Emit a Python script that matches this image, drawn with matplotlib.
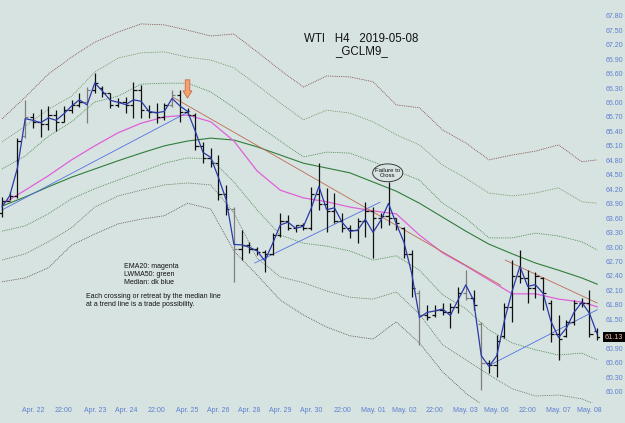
import matplotlib
matplotlib.use("Agg")
import matplotlib.pyplot as plt
from matplotlib.patches import Ellipse

# ---------------- data ----------------
opens = [63.70, 63.95, 64.05, 65.30, 65.70, 65.60, 65.55, 65.75, 65.60, 65.85,
         65.95, 66.00, 66.25, 66.30, 66.20, 65.95, 66.00, 65.95, 66.25, 65.85,
         65.80, 65.70, 65.95, 66.15, 65.80, 65.75, 65.10, 64.85, 64.75, 64.10,
         63.80, 62.95, 63.05, 62.95, 62.90, 62.85, 63.25, 63.55, 63.40, 63.45,
         63.40, 64.10, 63.90, 63.75, 63.55, 63.40, 63.35, 63.55, 63.75, 63.60,
         63.65, 63.60, 63.40, 62.85, 62.05, 61.60, 61.60, 61.70, 61.65, 61.75,
         62.05, 61.95, 61.40, 60.60, 60.55, 61.15, 61.75, 62.40, 62.35, 62.15,
         62.35, 61.85, 61.20, 61.15, 61.45, 61.85, 61.85, 61.25]
highs = [64.04, 64.15, 65.27, 66.06, 65.79, 65.87, 65.93, 65.85, 65.93, 66.06,
         66.20, 66.32, 66.61, 66.35, 66.20, 66.10, 66.12, 66.43, 66.37, 65.95,
         65.99, 65.99, 66.26, 66.26, 65.89, 65.79, 65.18, 65.06, 64.91, 64.29,
         63.83, 63.36, 63.11, 63.00, 62.94, 63.30, 63.71, 63.67, 63.46, 63.50,
         64.25, 64.75, 64.23, 64.13, 63.71, 63.46, 63.61, 63.94, 63.83, 63.71,
         64.35, 63.61, 63.42, 62.94, 62.11, 61.80, 61.80, 61.84, 61.84, 62.17,
         62.53, 62.11, 61.45, 60.66, 61.18, 61.84, 62.73, 62.94, 62.53, 62.49,
         62.38, 61.90, 61.59, 61.49, 61.90, 61.95, 62.11, 61.32]
lows = [63.63, 63.98, 64.02, 65.27, 65.47, 65.29, 65.43, 65.41, 65.60, 65.79,
        65.91, 65.58, 66.20, 66.12, 65.89, 65.91, 65.79, 65.68, 65.68, 65.68,
        65.58, 65.64, 65.91, 65.60, 65.74, 65.02, 64.75, 64.66, 63.98, 63.67,
        62.28, 62.73, 62.88, 62.84, 62.49, 62.84, 63.21, 63.36, 63.32, 63.36,
        63.36, 63.77, 63.32, 63.50, 63.32, 63.19, 63.09, 63.21, 62.78, 63.40,
        63.46, 63.36, 62.78, 61.97, 60.97, 61.49, 61.55, 61.59, 61.32, 61.64,
        61.90, 61.69, 60.04, 60.39, 60.31, 61.12, 61.45, 62.26, 61.84, 61.95,
        61.70, 61.03, 60.66, 61.14, 61.39, 61.76, 61.14, 61.07]
closes = [63.95, 64.05, 65.20, 65.70, 65.60, 65.55, 65.75, 65.60, 65.85, 65.95,
          66.00, 66.25, 66.40, 66.20, 65.95, 66.00, 65.95, 66.25, 65.85, 65.80,
          65.70, 65.95, 66.15, 65.80, 65.75, 65.10, 64.85, 64.75, 64.10, 63.80,
          62.95, 63.05, 62.95, 62.90, 62.85, 63.25, 63.55, 63.40, 63.45, 63.40,
          64.10, 63.90, 63.75, 63.55, 63.40, 63.35, 63.55, 63.75, 63.60, 63.65,
          63.60, 63.50, 62.85, 62.15, 61.60, 61.55, 61.70, 61.65, 61.75, 62.05,
          61.95, 61.80, 60.60, 60.55, 61.05, 61.75, 62.40, 62.35, 62.15, 62.40,
          62.05, 61.20, 61.10, 61.45, 61.85, 61.85, 61.20, 61.13]
grey_bars = [3, 11, 22, 30, 54, 60, 62]

# indicator curves read at these bar positions
ind_bars = [0, 3, 6, 9, 12, 15, 18, 21, 24, 27, 30, 33, 36, 39, 42, 45, 48, 51,
            54, 57, 60, 63, 66, 69, 72, 75, 77]
ema20 = [63.89, 64.18, 64.48, 64.81, 65.10, 65.37, 65.57, 65.70, 65.74, 65.60,
         65.20, 64.58, 64.18, 64.02, 63.94, 63.83, 63.75, 63.69, 63.25, 62.88,
         62.61, 62.32, 62.03, 62.03, 61.92, 61.86, 61.76]
lwma50 = [63.85, 64.04, 64.25, 64.45, 64.62, 64.79, 64.95, 65.10, 65.20, 65.26,
          65.22, 65.08, 64.91, 64.74, 64.64, 64.54, 64.35, 64.16, 63.91, 63.62,
          63.33, 63.06, 62.86, 62.67, 62.52, 62.36, 62.23]
upper1 = [64.62, 64.89, 65.30, 65.60, 66.01, 66.13, 66.38, 66.40, 66.40, 66.22,
          65.89, 65.53, 65.20, 64.87, 64.97, 64.95, 64.77, 64.58, 64.39, 63.91,
          63.60, 63.19, 63.19, 63.29, 63.23, 63.11, 62.94]
upper2 = [65.18, 65.51, 65.86, 66.13, 66.63, 66.92, 67.03, 67.05, 66.94, 66.88,
          66.72, 66.36, 65.99, 65.64, 65.84, 65.78, 65.60, 65.33, 65.12, 64.70,
          64.43, 64.12, 64.06, 64.12, 64.23, 63.94, 63.91]
upper3 = [65.66, 66.11, 66.59, 66.94, 67.25, 67.46, 67.63, 67.61, 67.50, 67.38,
          67.42, 67.05, 66.67, 66.32, 66.55, 66.53, 66.43, 65.95, 65.89, 65.43,
          65.16, 64.81, 64.91, 64.99, 65.12, 64.77, 64.81]
lower1 = [63.33, 63.44, 63.69, 64.00, 64.21, 64.39, 64.56, 64.74, 64.85, 64.83,
          64.35, 63.77, 63.25, 63.08, 63.02, 62.92, 62.73, 62.82, 62.52, 62.01,
          61.72, 61.28, 61.01, 60.87, 60.76, 60.80, 60.66]
lower2 = [62.73, 62.86, 63.11, 63.40, 63.83, 64.06, 64.18, 64.29, 64.33, 64.29,
          63.71, 62.77, 62.38, 62.26, 62.09, 61.96, 61.92, 62.07, 61.61, 60.97,
          60.66, 60.35, 60.06, 59.91, 59.93, 59.85, 59.72]
lower3 = [62.28, 62.36, 62.57, 63.04, 63.27, 63.48, 63.58, 63.65, 63.91, 63.79,
          62.92, 62.42, 61.90, 61.59, 61.34, 61.16, 61.09, 61.45, 61.01, 60.41,
          59.97, 59.62, 59.31, 59.00, 59.00, 59.00, 58.89]

# trend lines: (bar, price) endpoints
blue_trends = [((0.0, 63.77), (24.3, 65.82)),
               ((32.7, 62.67), (48.9, 63.93)),
               ((63.1, 60.55), (77.0, 61.70))]
brown_trends = [((22.1, 66.11), (64.5, 62.21)),
                ((65.1, 62.73), (77.0, 61.84))]

x_tick_bars = [4, 8, 12, 16, 20, 24, 28, 32, 36, 40, 44, 48, 52, 56, 60, 64, 68, 72, 76]
x_tick_labels = ["Apr. 22", "22:00", "Apr. 23", "Apr. 24", "22:00", "Apr. 25",
                 "Apr. 26", "Apr. 28", "Apr. 29", "Apr. 30", "22:00", "May. 01",
                 "May. 02", "22:00", "May. 03", "May. 06", "22:00", "May. 07", "May. 08"]
y_ticks = [60.00, 60.30, 60.60, 60.90, 61.20, 61.50, 61.80, 62.10, 62.40, 62.70,
           63.00, 63.30, 63.60, 63.90, 64.20, 64.50, 64.80, 65.10, 65.40, 65.70,
           66.00, 66.30, 66.60, 66.90, 67.20, 67.50, 67.80]

arrow_bar = 24
arrow_top, arrow_tip = 66.47, 66.09
note_bar, note_price = 49.9, 64.54

# ---------------- drawing ----------------
plt.rcParams['font.family'] = ['Liberation Sans', 'DejaVu Sans']
bg = '#d7e3e1'
lab_col = '#5d7fd0'

fig = plt.figure(figsize=(6.25, 4.23), dpi=100)
fig.patch.set_facecolor(bg)
ax = fig.add_axes([0, 20 / 423, 600 / 625, 403 / 423])
ax.set_facecolor(bg)
for s in ax.spines.values():
    s.set_visible(False)
ax.set_xlim(-0.26, 77.36)
ax.set_ylim(59.765, 68.126)

dot = (0, (1, 1.2))
ax.plot(ind_bars, upper3, color='#7a3c3c', lw=0.6, ls=dot, zorder=2)
ax.plot(ind_bars, lower3, color='#5a4a40', lw=0.6, ls=dot, zorder=2)
ax.plot(ind_bars, upper2, color='#6e8a58', lw=0.6, ls=dot, zorder=2)
ax.plot(ind_bars, lower2, color='#5c6e50', lw=0.6, ls=dot, zorder=2)
ax.plot(ind_bars, upper1, color='#3c8040', lw=0.6, ls=dot, zorder=2)
ax.plot(ind_bars, lower1, color='#3c8040', lw=0.6, ls=dot, zorder=2)
ax.plot(ind_bars, lwma50, color='#2f7d3a', lw=0.8, zorder=3)
ax.plot(ind_bars, ema20, color='#e060d8', lw=0.9, zorder=3)

for (x0, y0), (x1, y1) in blue_trends:
    ax.plot([x0, x1], [y0, y1], color='#5070e0', lw=0.6, zorder=3)
for (x0, y0), (x1, y1) in brown_trends:
    ax.plot([x0, x1], [y0, y1], color='#c06a50', lw=0.6, zorder=3)

tick = 0.42
for i in range(len(opens)):
    c = '#7f7f7f' if i in grey_bars else '#101010'
    ax.plot([i, i], [lows[i], highs[i]], color=c, lw=0.9, zorder=4, solid_capstyle='butt')
    ax.plot([i - tick, i], [opens[i], opens[i]], color=c, lw=0.9, zorder=4, solid_capstyle='butt')
    ax.plot([i, i + tick], [closes[i], closes[i]], color=c, lw=0.9, zorder=4, solid_capstyle='butt')

median = [(h + l) / 2 for h, l in zip(highs, lows)]
ax.plot(range(len(median)), median, color='#2a3aa8', lw=0.9, zorder=5)

# ticks (the label hidden under the last-price box is left blank)
ax.yaxis.tick_right()
ax.set_yticks(y_ticks)
ax.set_yticklabels(["" if abs(v - closes[-1]) < 0.12 else f"{v:.2f}" for v in y_ticks])
ax.tick_params(axis='y', length=0, pad=4, labelsize=5, labelcolor=lab_col)
ax.set_xticks(x_tick_bars)
ax.set_xticklabels(x_tick_labels)
ax.tick_params(axis='x', length=0, pad=3, labelsize=5, labelcolor=lab_col)

# last price box
ax.annotate(f"{closes[-1]:.2f}", xy=(1.0, closes[-1]), xycoords=('axes fraction', 'data'),
            xytext=(3.5, 0), textcoords='offset points', ha='left', va='center',
            fontsize=5.2, color='#ffb8a8', annotation_clip=False, zorder=10,
            bbox=dict(boxstyle='square,pad=0.2', fc='#000000', ec='none'))

# titles
ax.text(0.602, 0.896, "WTI   H4   2019-05-08", transform=ax.transAxes, ha='center',
        va='baseline', fontsize=8.3, color='#111111')
ax.text(0.602, 0.866, "_GCLM9_", transform=ax.transAxes, ha='center',
        va='baseline', fontsize=8.3, color='#111111')

# notes
for k, t in enumerate(["EMA20: magenta", "LWMA50: green", "Median: dk blue"]):
    ax.text(124 / 600, 1 - (267.5 + 8 * k) / 403, t, transform=ax.transAxes,
            ha='left', va='baseline', fontsize=5, color='#111111')
for k, t in enumerate(["Each crossing or retreat by the median line",
                       "at a trend line is a trade possibility."]):
    ax.text(86 / 600, 1 - (298 + 8 * k) / 403, t, transform=ax.transAxes,
            ha='left', va='baseline', fontsize=5, color='#111111')

# callout ellipse
ax.add_patch(Ellipse((note_bar, note_price), width=3.9, height=0.37, fc=bg,
                     ec='#222222', lw=0.6, zorder=6))
ax.text(note_bar, note_price, "Failure to\nCross", ha='center', va='center',
        fontsize=4.3, linespacing=0.95, color='#111111', zorder=7)

# arrow
ax.arrow(arrow_bar, arrow_top, 0, arrow_tip - arrow_top, width=0.6, head_width=1.15,
         head_length=0.15, length_includes_head=True, fc='#f5a070', ec='#c85a30',
         lw=0.5, zorder=7)

fig.savefig("out.png", dpi=100, facecolor=bg)
